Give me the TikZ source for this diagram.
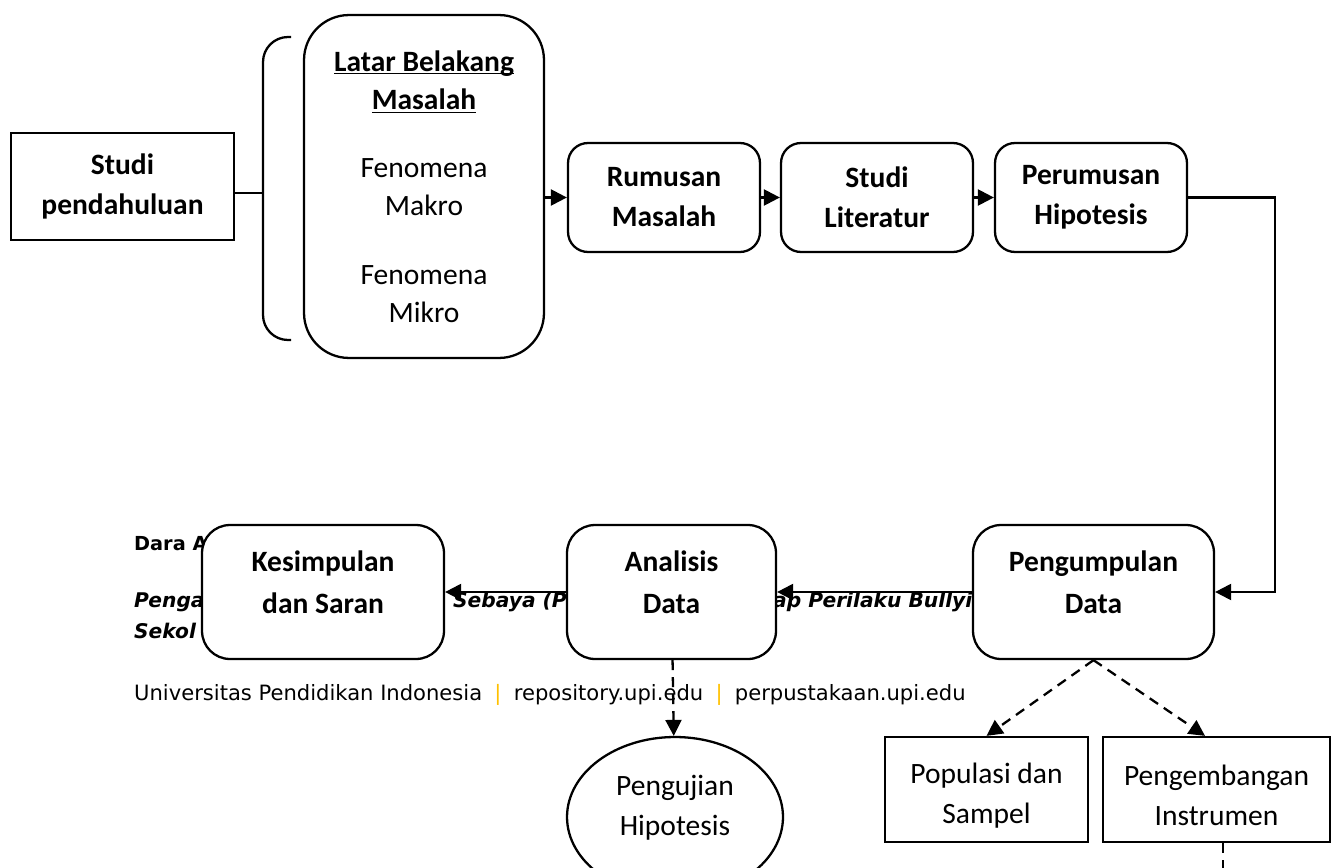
\documentclass[tikz,border=0pt]{standalone}
\usepackage{fontspec}
\setmainfont{Carlito}
\newfontfamily\footfont{DejaVu Sans}
\usepackage{tikz}
\usetikzlibrary{arrows.meta}
\usetikzlibrary{shapes.geometric}
\definecolor{upibar}{RGB}{255,192,0}
\newcommand{\uln}[1]{\underline{\raisebox{0pt}[\height][0pt]{#1}}}

\begin{document}
\begin{tikzpicture}[x=0.02cm,y=-0.02cm,line width=1.3pt,
  >={Triangle[length=0.32cm,width=0.32cm]},
  box/.style={draw,fill=white,align=center,inner sep=0pt,font=\fontsize{16.8}{22.8}\selectfont},
  bold/.style={font=\fontsize{16.8}{22.8}\selectfont\bfseries},
  topbox/.style={box,bold,rounded corners=0.4cm,minimum width=3.84cm,minimum height=2.18cm},
  lowbox/.style={box,rounded corners=0.56cm,minimum height=2.68cm,font=\fontsize{16.8}{23.9}\selectfont\bfseries},
  subbox/.style={box,minimum height=2.1cm},
  foot/.style={anchor=base west,inner sep=0pt,font=\footfont\fontsize{11}{13}\selectfont\bfseries},
  footit/.style={foot,font=\footfont\fontsize{11.5}{13}\selectfont\bfseries\itshape},
  dashline/.style={dash pattern=on 0.2cm off 0.14cm}]
\useasboundingbox (0,0) rectangle (1338,868);

\node[foot] (dara) at (133,550) {Dara A};
\node[footit] (judula) at (133,607) {Penga};
\node[footit] (judulb) at (452,607) {Sebaya (Pe};
\node[footit] (judulc) at (772,607) {ap Perilaku Bullyi};
\node[footit] (sekol) at (133,638) {Sekol};
\node[foot,font=\footfont\fontsize{12}{14}\selectfont] (upi) at (133,700)
  {Universitas Pendidikan Indonesia\hspace{7pt}\textcolor{upibar}{|}\hspace{7pt}repository.upi.edu\hspace{7pt}\textcolor{upibar}{|}\hspace{7pt}perpustakaan.upi.edu};

\node[box,bold,minimum width=4.46cm,minimum height=2.14cm] (sp) at (122.5,186.5) {Studi\\pendahuluan};
\node[box,font=\fontsize{16.8}{21.8}\selectfont,rounded corners=0.9cm,minimum width=4.8cm,minimum height=6.86cm] (lb) at (424,186.5)
  {\textbf{\uln{Latar Belakang}}\\\textbf{\uln{Masalah}}\\[17pt]Fenomena\\Makro\\[17pt]Fenomena\\Mikro};
\node[topbox] (ru) at (664,197.5) {Rumusan\\Masalah};
\node[topbox] (sl) at (877,197.5) {Studi\\Literatur};
\node[topbox] (pr) at (1091,197.5) {Perumusan\\Hipotesis};

\node[lowbox,minimum width=4.82cm] (pg) at (1093.5,592) {Pengumpulan\\Data\\[-12.5pt]\mbox{}};
\node[lowbox,minimum width=4.18cm] (an) at (671.5,592) {Analisis\\Data\\[-12.5pt]\mbox{}};
\node[lowbox,minimum width=4.84cm] (ks) at (323,592) {Kesimpulan\\dan Saran\\[-12.5pt]\mbox{}};
\node[box,ellipse,minimum width=4.32cm,minimum height=3.2cm] (ph) at (675,817) {Pengujian\\Hipotesis\\[-10pt]\mbox{}};
\node[subbox,minimum width=4.06cm] (po) at (986.5,789.5) {\mbox{}\\[-4.2pt]Populasi dan\\Sampel};
\node[subbox,minimum width=4.54cm] (pe) at (1216.5,789.5) {\mbox{}\\[-4.2pt]Pengembangan\\Instrumen};

\coordinate (brtop) at (291,37);
\coordinate (brbot) at (291,340);
\coordinate (brmid) at (263,193);
\draw[rounded corners=0.5cm] (brtop) -- (263,37) -- (263,340) -- (brbot);
\draw (sp.east |- brmid) -- (brmid);
\draw[->] (lb.east |- ru.west) -- (ru.west);
\draw[->] (ru) -- (sl);
\draw[->] (sl) -- (pr);
\coordinate (rside) at (1275,0);
\draw[->] (pr.east) -- (pr.east -| rside) -- (rside |- pg.east) -- (pg.east);
\draw[->] (pg) -- (an);
\draw[->] (an) -- (ks);
\draw[->,dashline] (an) -- (ph);
\draw[->,dashline] (pg.south) -- (po.north);
\draw[->,dashline] (pg.south) -- ([xshift=-0.23cm]pe.north);
\coordinate (peout) at (1223,880);
\draw[dashline] (peout |- pe.south) -- (peout);
\end{tikzpicture}
\end{document}
